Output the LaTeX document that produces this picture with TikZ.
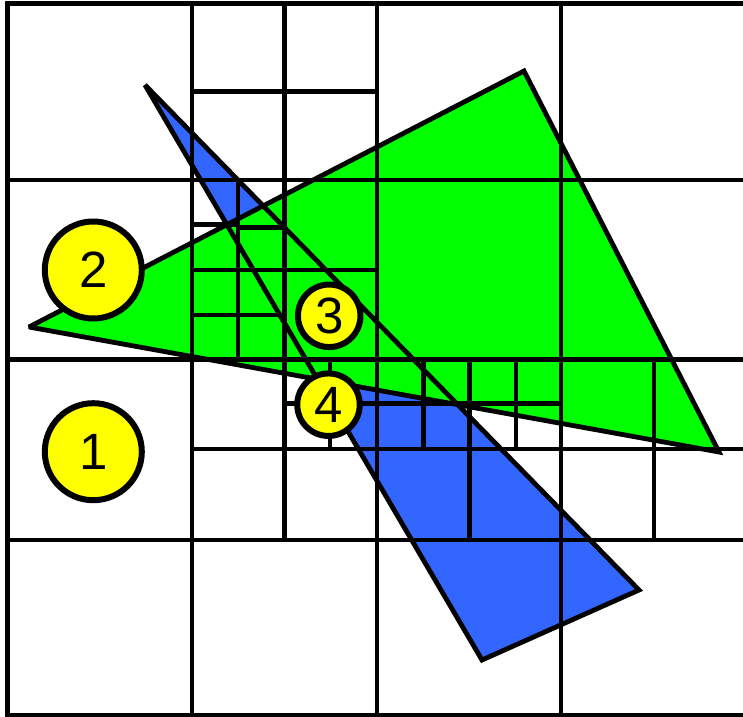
\documentclass[tikz,border=0pt]{standalone}
\usepackage{fontspec}
\setmainfont{Liberation Sans}
\definecolor{tgreen}{HTML}{00FF00}
\definecolor{tblue}{HTML}{3366FF}
\definecolor{tyellow}{HTML}{FFFF00}
\begin{document}
\begin{tikzpicture}[x=1bp,y=-1bp,
  gridline/.style={line width=4.5bp},
  edge/.style={line width=4.8bp, line join=miter, miter limit=3},
  bigc/.style={circle, draw, fill=tyellow, line width=6bp, minimum size=97bp, inner sep=0pt, font=\fontsize{51bp}{53bp}\selectfont},
  smallc/.style={bigc, minimum size=62.5bp}]
\useasboundingbox (0,0) rectangle (743,717);
% triangle vertices
\coordinate (bA) at (145,85);
\coordinate (bB) at (639,590);
\coordinate (bC) at (482,660);
\coordinate (gP) at (29,327);
\coordinate (gQ) at (524,71);
\coordinate (gR) at (719,452);
% fills
\fill[tblue] (bA) -- (bB) -- (bC) -- cycle;
\fill[tgreen] (gP) -- (gQ) -- (gR) -- cycle;
% main grid
\draw[gridline] (7.5,3.3) rectangle (746,715);
\foreach \x in {192,377,561} \draw[gridline] (\x,3.3) -- (\x,715);
\foreach \y in {180,359.5,540} \draw[gridline] (7.5,\y) -- (746,\y);
% subdivisions, column 2 row 1
\draw[gridline] (284.5,3.3) -- (284.5,180);
\draw[gridline] (192,91.5) -- (377,91.5);
% column 2 row 2
\draw[gridline] (284.5,180) -- (284.5,359.5);
\draw[gridline] (192,270) -- (377,270);
\draw[gridline] (238,180) -- (238,359.5);
\draw[gridline] (192,224.5) -- (238,224.5);
\draw[gridline] (238,227.5) -- (284.5,227.5);
\draw[gridline] (192,315) -- (284.5,315);
% row 3
\draw[gridline] (284.5,359.5) -- (284.5,540);
\draw[gridline] (192,449) -- (746,449);
\draw[gridline] (330,359.5) -- (330,449);
\draw[gridline] (284.5,403.5) -- (561,403.5);
\draw[gridline] (469.5,359.5) -- (469.5,540);
\draw[gridline] (423.5,359.5) -- (423.5,449);
\draw[gridline] (516,359.5) -- (516,449);
\draw[gridline] (654,359.5) -- (654,540);
% outlines
\draw[edge] (bA) -- (bB) -- (bC) -- cycle;
\draw[edge] (gP) -- (gQ) -- (gR) -- cycle;
% labels
\node[bigc] (c1) at (93.3,451.7) {1};
\node[bigc] (c2) at (93.3,270) {2};
\node[smallc] (c3) at (329.2,315.8) {3};
\node[smallc] (c4) at (328.5,404.7) {4};
\end{tikzpicture}
\end{document}
